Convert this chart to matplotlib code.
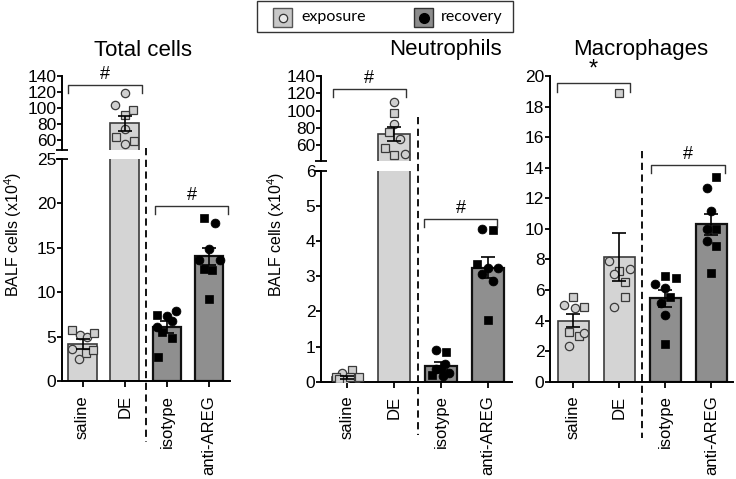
import matplotlib
matplotlib.use("Agg")
import matplotlib.pyplot as plt
from matplotlib.transforms import blended_transform_factory
from matplotlib.patches import Rectangle
from matplotlib.lines import Line2D

plt.rcParams['font.family'] = ['Liberation Sans', 'DejaVu Sans']
plt.rcParams['mathtext.fontset'] = 'custom'
plt.rcParams['mathtext.rm'] = 'Liberation Sans'
plt.rcParams['mathtext.it'] = 'Liberation Sans:italic'

W, H = 736, 479

groups = ['saline', 'DE', 'isotype', 'anti-AREG']
is_exposure = [True, True, False, False]

# Total cells (x10^4)
tc_mean = [4.2, 81, 6.1, 14.05]
tc_sem = [0.55, 9.0, 0.65, 0.95]
tc_pts = [[5.74, 5.18, 4.92, 5.37, 3.57, 3.19, 3.49, 2.44],
          [118.3, 103.7, 97.5, 91.2, 74.6, 64.1, 58.7, 55.9],
          [7.43, 7.36, 7.92, 6.79, 6.12, 5.56, 4.8, 2.74],
          [18.3, 17.76, 14.86, 13.6, 13.6, 12.58, 12.5, 9.23]]
tc_shape = ["soososso", "oossosso", "soooosss", "soooosss"]
tc_jit = [[-0.26, -0.06, 0.11, 0.27, -0.26, 0.08, 0.26, -0.08],
          [0, -0.22, 0.2, 0, 0, -0.21, 0.22, 0],
          [-0.23, 0, 0.22, 0.12, -0.23, -0.11, 0.13, -0.21],
          [-0.13, 0.13, 0, -0.25, 0.25, -0.12, 0.08, 0]]

# Neutrophils (x10^4)
ne_mean = [0.13, 72.8, 0.44, 3.25]
ne_sem = [0.04, 8.0, 0.11, 0.31]
ne_pts = [[0.33, 0.24, 0.12, 0.10, 0.12, 0.05, 0.12, 0.08],
          [109.5, 96.7, 84, 75.5, 66.6, 56.2, 48.4, 49.2],
          [0.9, 0.85, 0.5, 0.35, 0.35, 0.25, 0.2, 0.15],
          [4.34, 4.32, 3.34, 3.25, 3.23, 3.06, 2.87, 1.76]]
ne_shape = ["sosososs", "osososso", "osoososo", "ossoooos"]
ne_jit = [[0.09, -0.12, -0.25, 0.2, 0.25, -0.05, 0.05, -0.18],
          [0, 0, 0, -0.11, 0.12, -0.2, 0, 0.22],
          [-0.11, 0.11, 0.09, -0.1, 0, 0.18, -0.2, 0.05],
          [-0.12, 0.11, -0.22, 0, 0.22, -0.12, 0.11, 0]]

# Macrophages (x10^4)
ma_mean = [4.0, 8.18, 5.45, 10.3]
ma_sem = [0.43, 1.57, 0.55, 0.7]
ma_pts = [[5.56, 5.0, 4.8, 4.9, 3.27, 3.0, 3.2, 2.33],
          [18.9, 7.9, 7.26, 7.04, 7.4, 6.5, 5.56, 4.86],
          [6.9, 6.76, 6.38, 6.1, 5.56, 5.12, 4.36, 2.46],
          [13.36, 12.7, 11.16, 9.96, 9.96, 9.2, 8.9, 7.1]]
ma_shape = ["soosssoo", "sosoosso", "ssoosoos", "sooososs"]
ma_jit = [[0, -0.21, 0.03, 0.23, -0.09, 0.13, 0.23, -0.09],
          [0, -0.22, 0, -0.11, 0.23, 0.12, 0.12, -0.11],
          [0, 0.23, -0.23, 0, 0.11, -0.1, 0, 0],
          [0.11, -0.1, 0, -0.1, 0.11, -0.1, 0.11, 0]]

fig = plt.figure(figsize=(W / 100, H / 100), dpi=100)


def px(x0, y0, x1, y1):
    return [x0 / W, 1 - y1 / H, (x1 - x0) / W, (y1 - y0) / H]


def style_ax(ax, xlim, ylim, yticks, bottom=True):
    ax.set_xlim(*xlim)
    ax.set_ylim(*ylim)
    ax.set_yticks(yticks)
    for s in ['top', 'right']:
        ax.spines[s].set_visible(False)
    ax.spines['left'].set_linewidth(1.4)
    ax.spines['bottom'].set_linewidth(1.4)
    ax.tick_params(axis='y', direction='out', length=3.5, width=1.3, labelsize=12.5, pad=0.5)
    ax.patch.set_alpha(0)
    if bottom:
        ax.set_xticks(range(4))
        ax.set_xticklabels(groups, rotation=90, fontsize=12)
        ax.tick_params(axis='x', direction='out', length=4, width=1.3, pad=6)
    else:
        ax.spines['bottom'].set_visible(False)
        ax.set_xticks([])


def draw_data(ax, mean, sem, pts, shapes, jit):
    for i in range(4):
        if is_exposure[i]:
            ax.bar(i, mean[i], width=0.68, color='#d4d4d4', edgecolor='#3c3c3c',
                   linewidth=1.2, zorder=1)
        else:
            ax.bar(i, mean[i], width=0.68, color='#8f8f8f', edgecolor='#111111',
                   linewidth=1.6, zorder=1)
        for v, s, j in zip(pts[i], shapes[i], jit[i]):
            ms = 6.0 if s == 'o' else 5.3
            if is_exposure[i]:
                ax.plot(i + j, v, marker=s, ms=ms, mfc='#cfcfcf', mec='#3a3a3a',
                        mew=0.9, ls='none', zorder=3)
            else:
                ax.plot(i + j, v, marker=s, ms=ms + 0.4, mfc='black', mec='black',
                        mew=0.5, ls='none', zorder=3)
        ax.errorbar(i, mean[i], yerr=sem[i], fmt='none', ecolor='black',
                    elinewidth=1.2, capsize=5, capthick=1.2, zorder=4)


def bracket(ax, x0, x1, y, y_end, label, size=13):
    ax.plot([x0, x0, x1, x1], [y_end, y, y, y_end], color='#333333', lw=1.0,
            clip_on=False, zorder=5)
    ax.annotate(label, ((x0 + x1) / 2, y), xytext=(0, 1.5), textcoords='offset points',
                ha='center', va='bottom', fontsize=size, annotation_clip=False)


def break_caps(ax_up, ax_lo):
    ax_up.plot([0], [0], marker='_', ms=8, mew=1.3, color='black',
               transform=ax_up.transAxes, clip_on=False)
    ax_lo.plot([0], [1], marker='_', ms=8, mew=1.3, color='black',
               transform=ax_lo.transAxes, clip_on=False)


def divider(ax, y_top, y_bot):
    tr = blended_transform_factory(ax.transData, fig.transFigure)
    ax.add_line(Line2D([1.5, 1.5], [1 - y_top / H, 1 - y_bot / H], transform=tr,
                       color='black', lw=1.3, ls=(0, (4, 2.5)), clip_on=False))


# Panel 1: Total cells
xl1 = (-0.486, 3.495)
a1u = fig.add_axes(px(62, 76, 230, 150))
a1l = fig.add_axes(px(62, 159, 230, 381))
for ax in (a1u, a1l):
    draw_data(ax, tc_mean, tc_sem, tc_pts, tc_shape, tc_jit)
style_ax(a1u, xl1, (48, 140), [60, 80, 100, 120, 140], bottom=False)
style_ax(a1l, xl1, (0, 25), [0, 5, 10, 15, 20, 25])
break_caps(a1u, a1l)
bracket(a1u, -0.34, 1.41, 129, 119, '#')
bracket(a1l, 1.72, 3.45, 19.7, 18.8, '#')
divider(a1l, 148, 442)

# Panel 2: Neutrophils
xl2 = (-0.567, 3.52)
a2u = fig.add_axes(px(321, 76, 512, 161))
a2l = fig.add_axes(px(321, 171, 512, 381.7))
for ax in (a2u, a2l):
    draw_data(ax, ne_mean, ne_sem, ne_pts, ne_shape, ne_jit)
style_ax(a2u, xl2, (41.5, 140), [60, 80, 100, 120, 140], bottom=False)
style_ax(a2l, xl2, (0, 6), [0, 1, 2, 3, 4, 5, 6])
break_caps(a2u, a2l)
bracket(a2u, -0.32, 1.25, 125, 115.3, '#')
bracket(a2l, 1.64, 3.2, 4.63, 4.4, '#')
divider(a2l, 117, 435)

# Panel 3: Macrophages
a3 = fig.add_axes(px(550, 76, 733, 381.7))
draw_data(a3, ma_mean, ma_sem, ma_pts, ma_shape, ma_jit)
style_ax(a3, (-0.51, 3.47), (0, 20), list(range(0, 21, 2)))
bracket(a3, -0.36, 1.23, 19.54, 18.95, '*', size=17)
bracket(a3, 1.69, 3.3, 14.18, 13.66, '#')
divider(a3, 151, 438)

# titles and y labels
for x, t in [(143, 'Total cells'), (445, 'Neutrophils'), (641, 'Macrophages')]:
    fig.text(x / W, 1 - 50 / H, t, ha='center', va='center', fontsize=16)
for x in (13, 276):
    fig.text(x / W, 1 - 234 / H, 'BALF cells (x10$^{4}$)', rotation=90,
             ha='center', va='center', fontsize=11.5)

# legend box
fig.patches.append(Rectangle((257 / W, 1 - 32 / H), 256 / W, 31 / H, transform=fig.transFigure,
                             facecolor='white', edgecolor='#333333', lw=1.0))
fig.patches.append(Rectangle((273 / W, 1 - 27 / H), 19 / W, 19 / H, transform=fig.transFigure,
                             facecolor='#c8c8c8', edgecolor='#555555', lw=1.0))
fig.patches.append(Rectangle((414 / W, 1 - 27 / H), 19 / W, 19 / H, transform=fig.transFigure,
                             facecolor='#8c8c8c', edgecolor='#333333', lw=1.0))
fig.add_artist(Line2D([282.5 / W], [1 - 17.5 / H], marker='o', ms=6, mfc='#e8e8e8',
                      mec='#333333', mew=0.9, transform=fig.transFigure))
fig.add_artist(Line2D([423.5 / W], [1 - 17.5 / H], marker='o', ms=7, mfc='black',
                      mec='black', transform=fig.transFigure))
fig.text(301 / W, 1 - 17 / H, 'exposure', va='center', ha='left', fontsize=11.5,
         family=['Lato', 'DejaVu Sans'])
fig.text(441 / W, 1 - 17 / H, 'recovery', va='center', ha='left', fontsize=11.5,
         family=['Lato', 'DejaVu Sans'])

fig.savefig('out.png', dpi=100)
